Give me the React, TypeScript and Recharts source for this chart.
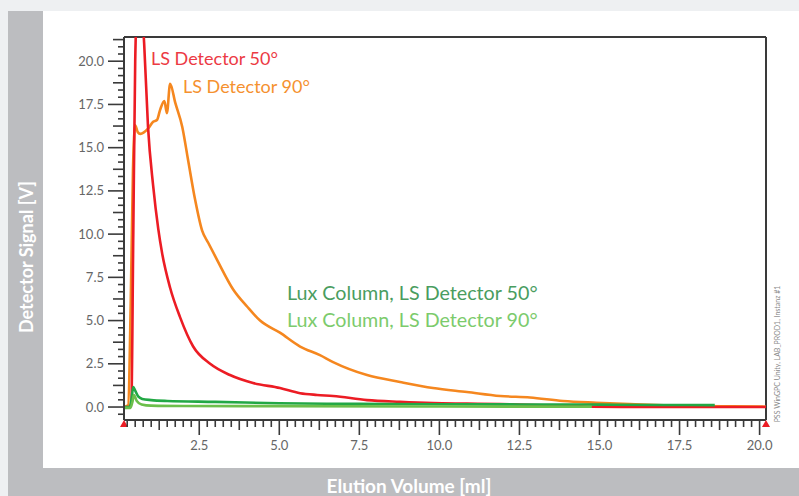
import React from 'react'
import {
  LineChart,
  Line,
  XAxis,
  YAxis,
  ReferenceLine,
  ReferenceDot,
} from 'recharts'

// elution volume [ml] / detector signal [V]
const ls50X = [0.15, 0.3, 0.38, 0.44, 0.5, 0.56, 0.68, 0.78, 0.9, 1.06, 1.22, 1.34, 1.59, 1.9, 2.31, 2.84, 3.46, 4.18, 5.02, 5.65, 6.18, 6.68, 7.74, 8.77, 9.8, 10.86, 11.9, 13.0, 14.0, 14.76, 16.0, 18.0, 20.2]
const ls50Y = [0, 0, 0.2, 10, 20, 23, 23.5, 21, 16.2, 12.8, 10.3, 8.9, 6.9, 5.2, 3.5, 2.5, 1.85, 1.39, 1.1, 0.8, 0.7, 0.64, 0.4, 0.3, 0.23, 0.2, 0.17, 0.12, 0.08, 0.02, 0.01, 0, 0]

const ls90X = [0.15, 0.28, 0.36, 0.43, 0.5, 0.58, 0.66, 0.9, 1.06, 1.18, 1.28, 1.41, 1.49, 1.59, 1.75, 1.97, 2.15, 2.37, 2.59, 2.78, 3.06, 3.56, 4.0, 4.4, 5.02, 5.65, 6.27, 6.68, 7.74, 8.77, 9.8, 10.86, 11.9, 12.83, 13.86, 14.9, 15.95, 17.0, 18.0, 19.07, 20.2]
const ls90Y = [0, 0.1, 6, 13.7, 16.3, 15.9, 15.8, 16.1, 16.5, 16.6, 17.2, 17.7, 17.0, 18.7, 17.6, 16.2, 14.3, 12.0, 10.2, 9.5, 8.5, 6.8, 5.8, 5.0, 4.3, 3.5, 3.0, 2.6, 1.85, 1.45, 1.1, 0.87, 0.64, 0.55, 0.35, 0.25, 0.17, 0.1, 0.06, 0.04, 0.02]

const lux50X = [0.15, 0.33, 0.38, 0.44, 0.5, 0.6, 0.72, 1.0, 1.5, 3.0, 5.0, 7.5, 10.0, 12.5, 15.0, 17.0, 18.6]
const lux50Y = [0, 0, 0.4, 1.15, 0.95, 0.6, 0.47, 0.4, 0.35, 0.3, 0.22, 0.18, 0.16, 0.15, 0.14, 0.12, 0.11]

const lux90X = [0.15, 0.35, 0.42, 0.46, 0.55, 0.7, 1.0, 2.0, 5.0, 10.0, 14.76]
const lux90Y = [-0.05, -0.05, 0.35, 0.7, 0.35, 0.15, 0.08, 0.06, 0.05, 0.03, 0.02]

const xMajorTicks = [2.5, 5, 7.5, 10, 12.5, 15, 17.5, 20]
const yMajorTicks = [0, 2.5, 5, 7.5, 10, 12.5, 15, 17.5, 20]

const X_DOMAIN: [number, number] = [0.15, 20.2]
const Y_DOMAIN: [number, number] = [-0.75, 21.4]

const series = [
  { name: 'LS Detector 90°', xs: ls90X, ys: ls90Y, color: '#f5871f' },
  { name: 'LS Detector 50°', xs: ls50X, ys: ls50Y, color: '#ec1c24' },
  { name: 'Lux Column, LS Detector 50°', xs: lux50X, ys: lux50Y, color: '#22a845' },
  { name: 'Lux Column, LS Detector 90°', xs: lux90X, ys: lux90Y, color: '#6cbf4b' },
]

const toRows = (xs: number[], ys: number[]) => xs.map((x, i) => ({ x, y: ys[i] }))

// minor ticks: x every 0.25 ml, y every 2.5/6 V
const xTicks: number[] = []
for (let k = 1; k * 0.25 <= 20.0001; k++) xTicks.push(+(k * 0.25).toFixed(3))
const yTicks: number[] = []
for (let k = -1; (k * 2.5) / 6 <= 21.3; k++) yTicks.push(+((k * 2.5) / 6).toFixed(4))

const isStep = (v: number, step: number) => Math.abs(v / step - Math.round(v / step)) < 1e-6

const FONT = 'Lato, "Noto Sans", sans-serif'
const AXIS = '#3a3a3a'

const YTick = (props: any) => {
  const { x, y, payload } = props
  const v = payload.value
  const major = yMajorTicks.some((m) => Math.abs(m - v) < 1e-6)
  const medium = isStep(v, 1.25)
  const len = major ? 16 : medium ? 11 : 6
  return (
    <g>
      <line x1={x - len} y1={y} x2={x} y2={y} stroke={AXIS} strokeWidth={1.6} />
      {major && (
        <text x={x - 20} y={y} dy={4.5} textAnchor="end" fill="#666" fontSize={13} fontFamily={FONT}>
          {v.toFixed(1)}
        </text>
      )}
    </g>
  )
}

const XTick = (props: any) => {
  const { x, y, payload } = props
  const v = payload.value
  const major = xMajorTicks.some((m) => Math.abs(m - v) < 1e-6)
  const medium = isStep(v, 1.25)
  const len = major ? 15 : medium ? 10 : 7
  return (
    <g>
      <line x1={x} y1={y} x2={x} y2={y + len} stroke={AXIS} strokeWidth={1.6} />
      {major && (
        <text x={x} y={y + 30} textAnchor="middle" fill="#666" fontSize={13} fontFamily={FONT}>
          {v.toFixed(1)}
        </text>
      )}
    </g>
  )
}

const Marker = (props: any) => {
  const { cx, cy } = props
  return <path d={`M${cx},${cy} L${cx + 4},${cy + 7} L${cx - 4},${cy + 7} Z`} fill="#ec1c24" />
}

export default function App() {
  return (
    <div style={{ position: 'absolute', left: 0, top: 0, width: 799, height: 496, background: '#eef0f2', overflow: 'hidden' }}>
      <div style={{ position: 'absolute', left: 8, top: 11, width: 791, height: 485, background: '#bcbdc0' }} />
      <div style={{ position: 'absolute', left: 43, top: 11, width: 756, height: 457, background: '#ffffff' }} />
      <div style={{ position: 'absolute', left: 0, top: 0 }}>
        <LineChart width={799} height={496} margin={{ top: 37, right: 33, bottom: 0, left: 24 }}>
          <XAxis
            type="number"
            dataKey="x"
            domain={X_DOMAIN}
            allowDataOverflow
            ticks={xTicks}
            interval={0}
            tick={<XTick />}
            tickLine={false}
            tickSize={0}
            tickMargin={0}
            height={76}
            axisLine={{ stroke: AXIS, strokeWidth: 2 }}
          />
          <YAxis
            type="number"
            dataKey="y"
            domain={Y_DOMAIN}
            allowDataOverflow
            ticks={yTicks}
            interval={0}
            tick={<YTick />}
            tickLine={false}
            tickSize={0}
            tickMargin={0}
            width={100}
            axisLine={{ stroke: AXIS, strokeWidth: 2 }}
          />
          <ReferenceLine y={Y_DOMAIN[1]} stroke={AXIS} strokeWidth={2} />
          <ReferenceLine x={X_DOMAIN[1]} stroke={AXIS} strokeWidth={2} />
          {series.map((s) => (
            <Line
              key={s.name}
              data={toRows(s.xs, s.ys)}
              dataKey="y"
              name={s.name}
              type="monotone"
              stroke={s.color}
              strokeWidth={2.6}
              dot={false}
              activeDot={false}
              isAnimationActive={false}
            />
          ))}
          <ReferenceDot x={X_DOMAIN[0]} y={Y_DOMAIN[0]} r={0} shape={<Marker />} ifOverflow="visible" />
          <ReferenceDot x={X_DOMAIN[1]} y={Y_DOMAIN[0]} r={0} shape={<Marker />} ifOverflow="visible" />
        </LineChart>
      </div>
      <svg width={799} height={496} style={{ position: 'absolute', left: 0, top: 0, pointerEvents: 'none' }}>
        <g fontFamily={FONT}>
          <text x={151} y={65} fontSize={18} fill="#ec3a44">LS Detector 50°</text>
          <text x={183} y={93} fontSize={18} fill="#f5912f">LS Detector 90°</text>
          <text x={287} y={300} fontSize={19.7} fill="#4a9d5f">Lux Column, LS Detector 50°</text>
          <text x={287} y={327} fontSize={19.7} fill="#7ccb6c">Lux Column, LS Detector 90°</text>
          <text x={409} y={493} textAnchor="middle" fontSize={19} fontWeight="bold" fill="#ffffff">
            Elution Volume [ml]
          </text>
          <text
            x={0}
            y={0}
            transform="translate(33,257) rotate(-90)"
            textAnchor="middle"
            fontSize={18}
            fontWeight="bold"
            fill="#ffffff"
          >
            Detector Signal [V]
          </text>
          <text
            x={0}
            y={0}
            transform="translate(780,354) rotate(-90)"
            textAnchor="middle"
            fontSize={7}
            fill="#888"
          >
            PSS WinGPC Unity, LAB_PROD1, Instanz #1
          </text>
        </g>
      </svg>
    </div>
  )
}
